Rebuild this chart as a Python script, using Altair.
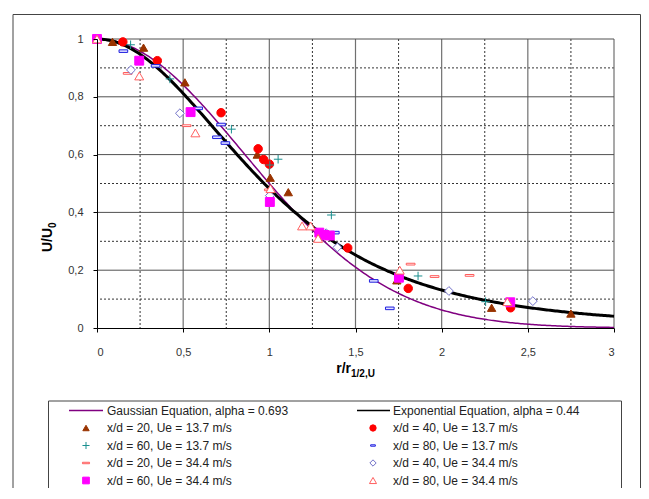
import numpy as np
import pandas as pd
import altair as alt

# ---------------- data ----------------
series_labels = [
    "x/d = 20, Ue = 13.7 m/s", "x/d = 40, Ue = 13.7 m/s",
    "x/d = 60, Ue = 13.7 m/s", "x/d = 80, Ue = 13.7 m/s",
    "x/d = 20, Ue = 34.4 m/s", "x/d = 40, Ue = 34.4 m/s",
    "x/d = 60, Ue = 34.4 m/s", "x/d = 80, Ue = 34.4 m/s",
]
x20_137 = [0.09, 0.27, 0.51, 0.93, 1.005, 1.11, 1.74, 2.29, 2.75]
u20_137 = [0.99, 0.97, 0.85, 0.60, 0.52, 0.47, 0.165, 0.07, 0.05]
x40_137 = [0.15, 0.35, 0.72, 0.935, 0.967, 1.0, 1.455, 1.806, 2.40]
u40_137 = [0.99, 0.925, 0.745, 0.62, 0.583, 0.567, 0.277, 0.137, 0.07]
x60_137 = [0.195, 0.423, 0.78, 1.003, 1.051, 1.36, 1.863, 2.255]
u60_137 = [0.98, 0.862, 0.688, 0.564, 0.584, 0.391, 0.18, 0.091]
x80_137 = [0.153, 0.34, 0.587, 0.72, 0.696, 0.745, 1.38, 1.606, 1.699]
u80_137 = [0.958, 0.907, 0.76, 0.704, 0.66, 0.64, 0.33, 0.163, 0.068]
x20_344 = [0.178, 0.52, 0.997, 1.82, 1.959, 2.162]
u20_344 = [0.881, 0.70, 0.478, 0.221, 0.178, 0.182]
x40_344 = [0.197, 0.481, 1.003, 1.33, 1.395, 2.042, 2.529]
u40_344 = [0.893, 0.743, 0.458, 0.328, 0.279, 0.128, 0.093]
x60_344 = [0.0, 0.245, 0.543, 1.003, 1.29, 1.32, 1.351, 1.752, 2.398]
u60_344 = [1.0, 0.925, 0.747, 0.436, 0.33, 0.322, 0.32, 0.174, 0.089]
x80_344 = [0.0, 0.245, 0.571, 1.007, 1.19, 1.24, 1.283, 1.757, 2.381]
u80_344 = [1.0, 0.872, 0.675, 0.482, 0.353, 0.353, 0.31, 0.2, 0.091]

gauss_label = "Gaussian Equation, alpha = 0.693"
expo_label = "Exponential Equation, alpha = 0.44"
alpha_gauss = 0.693
alpha_expo = 0.44

x_ticks = [0, 0.5, 1, 1.5, 2, 2.5, 3]
y_ticks = [0, 0.2, 0.4, 0.6, 0.8, 1]
x_minor = [0.25, 0.75, 1.25, 1.75, 2.25, 2.75]
y_minor = [0.1, 0.3, 0.5, 0.7, 0.9]
x_major = [0.5, 1, 1.5, 2, 2.5, 3]
y_major = [0.2, 0.4, 0.6, 0.8, 1]

# ---------------- tables ----------------
xs_all = [x20_137, x40_137, x60_137, x80_137, x20_344, x40_344, x60_344, x80_344]
us_all = [u20_137, u40_137, u60_137, u80_137, u20_344, u40_344, u60_344, u80_344]
rows = []
for i, (lab, xx, uu) in enumerate(zip(series_labels, xs_all, us_all)):
    for a, b in zip(xx, uu):
        rows.append({"series": lab, "r": a, "u": b, "order": i})
pts = pd.DataFrame(rows)

r_line = np.linspace(0, 3, 301)
curves = pd.DataFrame({
    "r": r_line,
    "gauss": np.exp(-alpha_gauss * r_line ** 2),
    "expo": 1.0 / (1.0 + alpha_expo * r_line ** 2) ** 2,
})

# ---------------- styles ----------------
FONT = "Liberation Sans"
shapes = ["triangle-up", "circle", "M-1,0L1,0M0,-1L0,1",
          "M-1,-0.3L1,-0.3L1,0.3L-1,0.3Z", "M-1,-0.2L1,-0.2L1,0.2L-1,0.2Z",
          "diamond", "square", "triangle-up"]
fills = ["#993300", "#FF0000", "transparent", "#E0E0FF", "white",
         "white", "#FF00FF", "white"]
strokes = ["#993300", "#FF0000", "#1A8F8F", "#2020E0", "#FF5A5A",
           "#7070C8", "#FF00FF", "#FF6060"]
sizes = [70, 81, 90, 30, 81, 64, 81, 90]
leg_sizes = [40, 40, 50, 22, 50, 40, 45, 50]

W, H = 517, 289
xs = alt.Scale(domain=[0, 3], nice=False, zero=False)
ys = alt.Scale(domain=[0, 1], nice=False, zero=False)
lab_expr = "replace(toString(datum.value), '.', ',')"
ax = alt.Axis(values=x_ticks, labelExpr=lab_expr, title=None, grid=False,
              domainColor="black", tickColor="black", tickSize=4,
              labelPadding=14, labelFontSize=11, labelColor="#333",
              labelFont=FONT, zindex=1)
ay = alt.Axis(values=y_ticks, labelExpr=lab_expr, title=None, grid=False,
              domainColor="black", tickColor="black", tickSize=4,
              labelPadding=10, labelFontSize=11, labelColor="#333",
              labelFont=FONT, zindex=1)

one = pd.DataFrame({"k": [0]})

minor_x = alt.Chart(pd.DataFrame({"g": x_minor})).mark_rule(
    color="#333", strokeDash=[2, 2], strokeWidth=1).encode(
    x=alt.X("g:Q", scale=xs, axis=ax))
minor_y = alt.Chart(pd.DataFrame({"g": y_minor})).mark_rule(
    color="#333", strokeDash=[2, 2], strokeWidth=1).encode(
    y=alt.Y("g:Q", scale=ys, axis=ay))
major_x = alt.Chart(pd.DataFrame({"g": x_major})).mark_rule(
    color="#707070", strokeWidth=1.2).encode(
    x=alt.X("g:Q", scale=xs, axis=ax))
major_y = alt.Chart(pd.DataFrame({"g": y_major})).mark_rule(
    color="#505050", strokeWidth=1).encode(
    y=alt.Y("g:Q", scale=ys, axis=ay))

gauss_line = alt.Chart(curves).mark_line(color="#800080", strokeWidth=1.5).encode(
    x=alt.X("r:Q", scale=xs, axis=ax), y=alt.Y("gauss:Q", scale=ys, axis=ay))
expo_line = alt.Chart(curves).mark_line(color="black", strokeWidth=3).encode(
    x=alt.X("r:Q", scale=xs, axis=ax), y=alt.Y("expo:Q", scale=ys, axis=ay))

shape_s = alt.Scale(domain=series_labels, range=shapes)
fill_s = alt.Scale(domain=series_labels, range=fills)
stroke_s = alt.Scale(domain=series_labels, range=strokes)
size_s = alt.Scale(domain=series_labels, range=sizes)

points = alt.Chart(pts).mark_point(opacity=1, strokeWidth=1).encode(
    x=alt.X("r:Q", scale=xs, axis=ax),
    y=alt.Y("u:Q", scale=ys, axis=ay),
    shape=alt.Shape("series:N", scale=shape_s, legend=None),
    fill=alt.Fill("series:N", scale=fill_s, legend=None),
    stroke=alt.Stroke("series:N", scale=stroke_s, legend=None),
    size=alt.Size("series:O", scale=size_s, legend=None),
    order=alt.Order("order:Q"),
)

# ---------------- legend (pixel layout) ----------------
row_y0, row_dy = 371.5, 17.5
sym_x = [-11, 276]
txt_x = [10, 296]
leg = pd.DataFrame({
    "series": series_labels,
    "lx": [sym_x[i % 2] for i in range(8)],
    "tx": [txt_x[i % 2] for i in range(8)],
    "ly": [row_y0 + row_dy * (1 + i // 2) for i in range(8)],
    "ls": leg_sizes,
})
leg_pts = alt.Chart(leg).mark_point(opacity=1, strokeWidth=1).encode(
    x=alt.X("lx:Q", scale=None, axis=None),
    y=alt.Y("ly:Q", scale=None, axis=None),
    shape=alt.Shape("series:N", scale=shape_s, legend=None),
    fill=alt.Fill("series:N", scale=fill_s, legend=None),
    stroke=alt.Stroke("series:N", scale=stroke_s, legend=None),
    size=alt.Size("ls:Q", scale=None, legend=None),
)
leg_txt = alt.Chart(leg).mark_text(align="left", baseline="middle", font=FONT,
                                   fontSize=12, color="#222").encode(
    x=alt.X("tx:Q", scale=None, axis=None),
    y=alt.Y("ly:Q", scale=None, axis=None),
    text="series:N",
)
leg_line_g = alt.Chart(one).mark_rule(color="#800080", strokeWidth=1.5).encode(
    x=alt.value(-28), x2=alt.value(6), y=alt.value(row_y0))
leg_line_e = alt.Chart(one).mark_rule(color="black", strokeWidth=1.5).encode(
    x=alt.value(260), x2=alt.value(293), y=alt.value(row_y0))
leg_txt_g = alt.Chart(one).mark_text(align="left", baseline="middle", font=FONT,
                                     fontSize=12, color="#222", text=gauss_label).encode(
    x=alt.value(txt_x[0]), y=alt.value(row_y0))
leg_txt_e = alt.Chart(one).mark_text(align="left", baseline="middle", font=FONT,
                                     fontSize=12, color="#222", text=expo_label).encode(
    x=alt.value(txt_x[1]), y=alt.value(row_y0))

leg_box = alt.Chart(one).mark_rect(filled=False, stroke="#444", strokeWidth=1).encode(
    x=alt.value(-48.5), x2=alt.value(524.5), y=alt.value(362), y2=alt.value(700))
outer_box = alt.Chart(one).mark_rect(filled=False, stroke="#444", strokeWidth=1).encode(
    x=alt.value(-84), x2=alt.value(543.5), y=alt.value(-24.5), y2=alt.value(700))

# axis titles with subscripts
xt_main = alt.Chart(one).mark_text(align="right", baseline="alphabetic", font=FONT,
                                   fontSize=14, fontWeight="bold", color="black",
                                   text="r/r").encode(x=alt.value(254), y=alt.value(334))
xt_sub = alt.Chart(one).mark_text(align="left", baseline="alphabetic", font=FONT,
                                  fontSize=10, fontWeight="bold", color="black",
                                  text="1/2,U").encode(x=alt.value(254), y=alt.value(338))
yt_main = alt.Chart(one).mark_text(align="left", baseline="alphabetic", font=FONT,
                                   fontSize=14, fontWeight="bold", color="black",
                                   angle=270, text="U/U").encode(x=alt.value(-45), y=alt.value(213))
yt_sub = alt.Chart(one).mark_text(align="left", baseline="alphabetic", font=FONT,
                                  fontSize=10, fontWeight="bold", color="black",
                                  angle=270, text="0").encode(x=alt.value(-41), y=alt.value(189))

chart = alt.layer(
    outer_box, leg_box,
    minor_x, minor_y, major_x, major_y,
    gauss_line, expo_line, points,
    leg_line_g, leg_line_e, leg_txt_g, leg_txt_e, leg_pts, leg_txt,
    xt_main, xt_sub, yt_main, yt_sub,
).properties(
    width=W, height=H,
    autosize=alt.AutoSizeParams(type="none"),
    padding={"left": 89, "top": 31, "right": 27, "bottom": 160},
    background="white",
).configure_view(stroke=None)

chart.save("out.html", embed_options={"renderer": "svg", "actions": False})
